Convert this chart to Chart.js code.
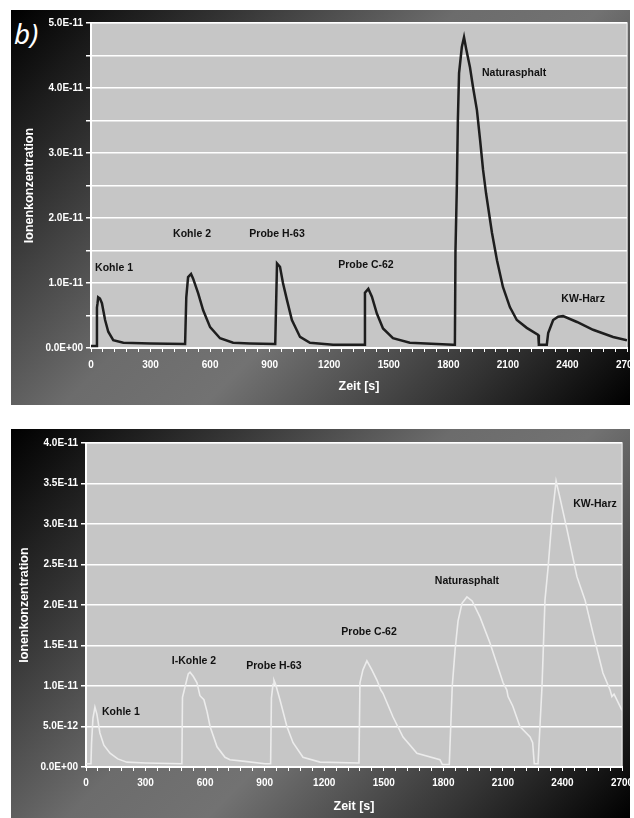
<!DOCTYPE html>
<html lang="de">
<head>
<meta charset="UTF-8">
<title>Ionenkonzentration</title>
<script src="https://cdn.jsdelivr.net/npm/chart.js"></script>
<style>
  body { margin: 0; background: #fff; width: 634px; height: 818px; position: relative; overflow: hidden; }
  .frame { position: absolute; left: 11px; width: 619px;
    background: linear-gradient(135deg, #000 0%, #303030 20%, #6c6c6c 44%, #727272 58%, #333 82%, #000 100%); }
  #frameTop { top: 10px; height: 395px; }
  #frameBottom { top: 429px; height: 389px; }
  canvas { position: absolute; }
  #topChart { left: 11px; top: 10px; }
  #bottomChart { left: 11px; top: 429px; }
  .tag { position: absolute; left: 14px; top: 14px; color: #fff; font: italic 28px "Noto Sans", sans-serif; }
</style>
</head>
<body>
<div class="frame" id="frameTop"></div>
<div class="frame" id="frameBottom"></div>
<div class="tag">b)</div>
<canvas id="topChart" width="619" height="395"></canvas>
<canvas id="bottomChart" width="623" height="389"></canvas>
<script>
// values in units of 1E-11, time in s
const topTimes = [0, 28, 30, 33, 36, 45, 55, 71, 87, 112, 163, 300, 474, 478, 480, 489, 504, 514, 540, 565, 600, 650, 716, 800, 925, 928,
  937, 952, 967, 987, 1012, 1053, 1103, 1219, 1376, 1380, 1397, 1415, 1440, 1471, 1521, 1606, 1823, 1833, 1836, 1843, 1848,
  1854, 1868, 1879, 1890, 1909, 1924, 1944, 1960, 1975, 1990, 2020, 2045, 2075, 2110, 2145, 2195, 2253, 2256, 2296, 2303, 2328,
  2353, 2378, 2448, 2529, 2630, 2700];
const topValues = [0.03, 0.03, 0.62, 0.69, 0.78, 0.76, 0.69, 0.43, 0.25, 0.12, 0.08, 0.07, 0.06, 0.06, 0.78, 1.09, 1.14, 1.07, 0.84, 0.58, 0.32, 0.15, 0.08, 0.07, 0.06, 0.06,
  1.3, 1.25, 1.0, 0.74, 0.43, 0.17, 0.08, 0.05, 0.05, 0.85, 0.91, 0.79, 0.53, 0.30, 0.15, 0.08, 0.05, 0.05, 1.5, 2.5, 3.5,
  4.23, 4.63, 4.78, 4.6, 4.32, 4.02, 3.66, 3.2, 2.74, 2.38, 1.77, 1.35, 0.94, 0.63, 0.43, 0.31, 0.2, 0.05, 0.05, 0.23, 0.43,
  0.48, 0.49, 0.40, 0.28, 0.17, 0.12];

const bottomTimes = [0, 25, 28, 35, 45, 55, 70, 90, 121, 160, 206, 300, 483, 486, 500, 515, 524, 540, 559, 574, 594, 610, 625, 660, 700, 725,
  800, 902, 930, 934, 942, 947, 955, 977, 1012, 1043, 1093, 1179, 1375, 1380, 1395, 1415, 1440, 1466, 1485, 1496, 1546, 1597,
  1667, 1783, 1795, 1830, 1845, 1859, 1874, 1894, 1919, 1945, 1985, 2035, 2101, 2120, 2126, 2150, 2186, 2237, 2250, 2258, 2277,
  2297, 2312, 2328, 2348, 2368, 2385, 2423, 2473, 2514, 2554, 2604, 2640, 2649, 2660, 2700];
const bottomValues = [0.04, 0.04, 0.3, 0.6, 0.74, 0.65, 0.42, 0.27, 0.17, 0.10, 0.06, 0.05, 0.04, 0.86, 1.0, 1.15, 1.17, 1.12, 1.04, 0.88, 0.83, 0.68, 0.5, 0.25, 0.12, 0.09,
  0.07, 0.04, 0.04, 0.85, 1.02, 1.07, 1.02, 0.83, 0.5, 0.3, 0.12, 0.06, 0.05, 1.04, 1.2, 1.31, 1.2, 1.07, 0.95, 0.91, 0.62, 0.37,
  0.17, 0.09, 0.03, 0.03, 1.0, 1.44, 1.8, 2.02, 2.1, 2.05, 1.85, 1.53, 1.04, 0.95, 0.87, 0.75, 0.5, 0.37, 0.3, 0.04, 0.04,
  0.99, 2.06, 2.47, 3.09, 3.53, 3.35, 2.93, 2.35, 2.06, 1.65, 1.16, 0.95, 0.87, 0.9, 0.7];

const topNames = ['Kohle 1', 'Kohle 2', 'Probe H-63', 'Probe C-62', 'Naturasphalt', 'KW-Harz'];
const topNameTimes = [116, 509, 937, 1385, 2131, 2479];
const topNameValues = [1.23, 1.75, 1.75, 1.28, 4.23, 0.75];

const bottomNames = ['Kohle 1', 'I-Kohle 2', 'Probe H-63', 'Probe C-62', 'Naturasphalt', 'KW-Harz'];
const bottomNameTimes = [176, 544, 947, 1426, 1919, 2564];
const bottomNameValues = [0.68, 1.31, 1.25, 1.67, 2.30, 3.25];

const FONT = 'Arial, "Liberation Sans", sans-serif';

// 1E-11 units -> "5.0E-12" style text
function sci(v) {
  const s = (v * 1e-11).toExponential(1).toUpperCase();
  return s.replace(/E([+-])(\d)$/, 'E$10$2');
}

const plotBackground = {
  id: 'plotBackground',
  beforeDraw(chart) {
    const { ctx, chartArea: a } = chart;
    ctx.save();
    ctx.fillStyle = '#c6c6c6';
    ctx.fillRect(a.left, a.top, a.width, a.height);
    ctx.strokeStyle = '#dedede';
    ctx.lineWidth = 1.5;
    ctx.strokeRect(a.left, a.top, a.width, a.height);
    ctx.restore();
  }
};

const peakNames = {
  id: 'peakNames',
  afterDatasetsDraw(chart, args, opts) {
    const { ctx, scales } = chart;
    ctx.save();
    ctx.font = 'bold 10.5px ' + FONT;
    ctx.fillStyle = '#111';
    ctx.textAlign = 'center';
    ctx.textBaseline = 'middle';
    opts.names.forEach((n, i) => {
      ctx.fillText(n, scales.x.getPixelForValue(opts.times[i]), scales.y.getPixelForValue(opts.values[i]));
    });
    ctx.restore();
  }
};

function makeChart(id, c) {
  return new Chart(document.getElementById(id), {
    type: 'line',
    data: {
      datasets: [{
        data: c.times.map((t, i) => ({ x: t, y: c.values[i] })),
        borderColor: c.lineColor,
        borderWidth: c.lineWidth,
        pointRadius: 0,
        tension: 0,
        fill: false
      }]
    },
    options: {
      responsive: false,
      animation: false,
      layout: { padding: { left: 0, top: c.padTop, right: c.padRight, bottom: 0 } },
      plugins: {
        legend: { display: false },
        tooltip: { enabled: false },
        peakNames: { names: c.names, times: c.nameTimes, values: c.nameValues }
      },
      scales: {
        x: {
          type: 'linear', min: 0, max: 2700,
          border: { color: '#fff', width: 2 },
          grid: { drawOnChartArea: false, color: '#fff', tickLength: 4, lineWidth: 1 },
          ticks: {
            stepSize: 60, autoSkip: false, maxRotation: 0, color: '#fff', padding: c.xTickPad,
            font: { family: FONT, size: 10, weight: 'bold' },
            callback: v => (v % 300 === 0 ? String(v) : '')
          },
          title: { display: true, text: 'Zeit [s]', color: '#fff', padding: { top: 0, bottom: c.xTitlePad },
            font: { family: FONT, size: 12.5, weight: 'bold' } },
          afterFit(s) { s.height = c.xHeight; s.paddingLeft = 0; s.paddingRight = 0; }
        },
        y: {
          min: 0, max: c.yMax,
          border: { color: '#fff', width: 2 },
          grid: { color: '#fff', lineWidth: 1.5, tickLength: 5 },
          ticks: {
            stepSize: 0.5, color: '#fff', padding: 3,
            font: { family: FONT, size: 10, weight: 'bold' },
            callback: (v, i) => (i % c.labelEvery === 0 ? sci(v) : '')
          },
          title: { display: true, text: 'Ionenkonzentration', color: '#fff', padding: { top: c.yTitlePad, bottom: 0 },
            font: { family: FONT, size: 12.5, weight: 'bold' } },
          afterFit(s) { s.width = c.yWidth; s.paddingTop = 0; s.paddingBottom = 0; }
        }
      }
    },
    plugins: [plotBackground, peakNames]
  });
}

makeChart('topChart', {
  times: topTimes, values: topValues, lineColor: '#1e1e1e', lineWidth: 2.5,
  names: topNames, nameTimes: topNameTimes, nameValues: topNameValues,
  yMax: 5, labelEvery: 2, padTop: 13, padRight: 3, yWidth: 80, xHeight: 57,
  xTickPad: 7, xTitlePad: 10.5, yTitlePad: 11.5
});

makeChart('bottomChart', {
  times: bottomTimes, values: bottomValues, lineColor: '#ececec', lineWidth: 1.6,
  names: bottomNames, nameTimes: bottomNameTimes, nameValues: bottomNameValues,
  yMax: 4, labelEvery: 1, padTop: 14, padRight: 12, yWidth: 75, xHeight: 51,
  xTickPad: 6, xTitlePad: 3.5, yTitlePad: 6.5
});
</script>
</body>
</html>
